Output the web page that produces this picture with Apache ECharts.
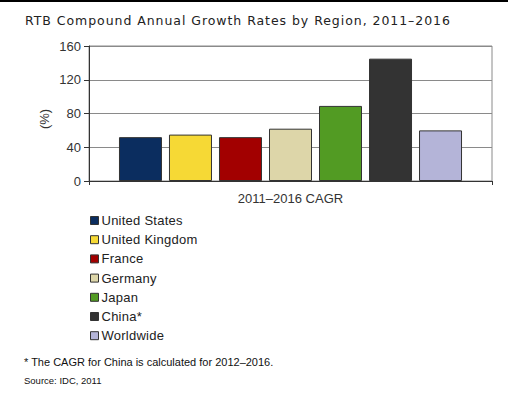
<!DOCTYPE html>
<html><head><meta charset="utf-8">
<script src="https://cdn.jsdelivr.net/npm/echarts@6/dist/echarts.min.js"></script>
<style>html,body{margin:0;padding:0;background:#fff}#c{width:508px;height:406px}
#c text[style*="DejaVu"]{letter-spacing:0.95px}
#c text[style*="13.01px"]{letter-spacing:0.25px}
</style>
</head><body><div id="c"></div>
<script>
const categories = ['2011\u20132016 CAGR'];
const regions = ['United States','United Kingdom','France','Germany','Japan','China*','Worldwide'];
const values = [52, 55, 52, 62, 89, 145, 60];
const colors = ['#0b2d5f','#f6d935','#a20000','#ddd6a9','#529b23','#333333','#b4b4d8'];
const yTicks = [0, 40, 80, 120, 160];

const F = '"Liberation Sans", Arial, sans-serif';
const chart = echarts.init(document.getElementById('c'), null, { renderer: 'svg' });
chart.setOption({
  animation: false,
  backgroundColor: '#fff',
  title: {
    text: 'RTB Compound Annual Growth Rates by Region, 2011\u20132016',
    left: 20, top: 9,
    textStyle: { fontFamily: '"DejaVu Sans", Verdana, sans-serif', fontSize: 12.5, fontWeight: 'normal', color: '#222' }
  },
  grid: { left: 89, right: 16, top: 46, bottom: 225, show: true, borderColor: '#8a8a8a', borderWidth: 1 },
  legend: {
    orient: 'vertical', left: 85, top: 209,
    itemWidth: 8, itemHeight: 8, itemGap: 6.2,
    icon: 'rect',
    textStyle: { fontFamily: F, fontSize: 13.01, color: '#222', padding: [0,0,0,-2] },
    data: regions.map((r, i) => ({ name: r, itemStyle: { color: colors[i], borderColor: '#333', borderWidth: 1 } }))
  },
  xAxis: {
    type: 'category', data: categories,
    axisLine: { lineStyle: { color: '#333', width: 1 } },
    axisTick: { show: true, length: 4, lineStyle: { color: '#333' } },
    axisLabel: { fontFamily: F, fontSize: 13, color: '#333', margin: 11 }
  },
  yAxis: {
    type: 'value', min: yTicks[0], max: yTicks[yTicks.length - 1], interval: 40,
    axisLine: { show: true, lineStyle: { color: '#333', width: 1 } },
    axisTick: { show: true, length: 5, lineStyle: { color: '#333' } },
    axisLabel: { fontFamily: F, fontSize: 13, color: '#333', margin: 8 },
    splitLine: { lineStyle: { color: '#8a8a8a', width: 1 } }
  },
  series: regions.map((r, i) => ({
    name: r, type: 'bar', barWidth: 43, barGap: '16.3%',
    data: [values[i]],
    itemStyle: { color: colors[i], borderColor: '#333', borderWidth: 1 }
  })),
  graphic: [
    { type: 'rect', shape: { x: 0, y: 0, width: 508, height: 2 }, style: { fill: '#000' } },
    { type: 'text', x: 44, y: 119, rotation: Math.PI / 2, style: { text: '(%)', font: '13px ' + F, fill: '#333', textAlign: 'center', textVerticalAlign: 'middle' } },
    { type: 'text', x: 24, y: 362, style: { text: '* The CAGR for China is calculated for 2012\u20132016.', font: '11px ' + F, fill: '#111', textVerticalAlign: 'middle' } },
    { type: 'text', x: 24, y: 380, style: { text: 'Source: IDC, 2011', font: '9.5px ' + F, fill: '#111', textVerticalAlign: 'middle' } }
  ]
});
</script></body></html>
